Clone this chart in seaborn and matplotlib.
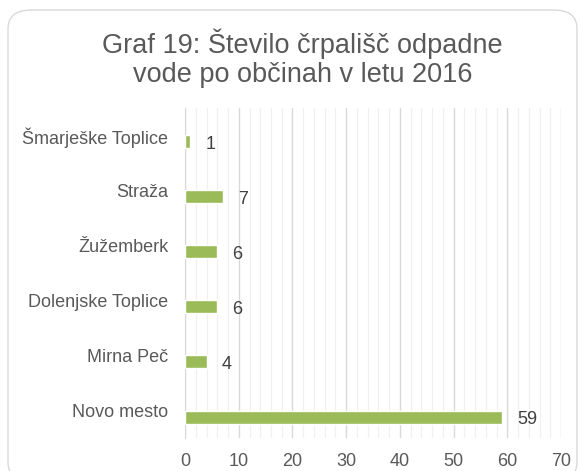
import numpy as np
import pandas as pd
import matplotlib
matplotlib.use("Agg")
import matplotlib.pyplot as plt
import seaborn as sns
from matplotlib.patches import FancyBboxPatch
from matplotlib.ticker import MultipleLocator

obcine = ["Šmarješke Toplice", "Straža", "Žužemberk", "Dolenjske Toplice", "Mirna Peč", "Novo mesto"]
crpalisca = [1, 7, 6, 6, 4, 59]
x_ticks = [0, 10, 20, 30, 40, 50, 60, 70]
title = "Graf 19: Število črpališč odpadne\nvode po občinah v letu 2016"

df = pd.DataFrame({"obcina": obcine, "st": crpalisca})

sns.set_style("white")
plt.rcParams["font.family"] = ["Liberation Sans", "DejaVu Sans"]

fig = plt.figure(figsize=(5.82, 4.71), dpi=100)
# rounded frame around the chart
frame = FancyBboxPatch((8 / 582, -10 / 471), 569 / 582, 471 / 471, boxstyle="round,pad=0,rounding_size=0.04",
                       transform=fig.transFigure, facecolor="none", edgecolor="#D9D9D9", lw=1.0, zorder=-1)
fig.patches.append(frame)

ax = fig.add_axes([0.318, 0.070, 0.646, 0.701])
ax.set_facecolor("none")
sns.barplot(data=df, x="st", y="obcina", orient="h", color="#9BBB59", width=0.236,
            saturation=1, ax=ax, zorder=3)
# bars sit a bit below the category centre
for p in ax.patches:
    p.set_y(p.get_y() + 0.118)

for i, v in enumerate(crpalisca):
    ax.annotate(str(v), xy=(v, i + 0.118), xytext=(11, -2), textcoords="offset points",
                ha="left", va="center", fontsize=13, color="#404040")

ax.set_xlim(0, 70)
ax.set_ylim(5.5, -0.5)
ax.set_xticks(x_ticks)
ax.xaxis.set_minor_locator(MultipleLocator(2))
ax.grid(axis="x", which="major", color="#D9D9D9", lw=1.0, zorder=0)
ax.grid(axis="x", which="minor", color="#F0F0F0", lw=0.9, zorder=0)
ax.set_axisbelow(True)
ax.set_yticks(range(len(obcine)))
ax.set_yticks(np.arange(-0.5, len(obcine), 1), minor=True)
ax.tick_params(axis="y", which="major", length=0, pad=12, labelsize=13, labelcolor="#595959")
ax.tick_params(axis="y", which="minor", length=4, color="#D9D9D9", direction="out")
ax.tick_params(axis="x", which="both", length=0, pad=11, labelsize=13, labelcolor="#595959")
ax.set_xlabel("")
ax.set_ylabel("")
for s in ["top", "right", "bottom"]:
    ax.spines[s].set_visible(False)
ax.spines["left"].set_color("#D9D9D9")

fig.suptitle(title, x=0.52, y=0.94, fontsize=19.5, color="#595959", linespacing=1.15, va="top")

fig.savefig("out.png", dpi=100)
